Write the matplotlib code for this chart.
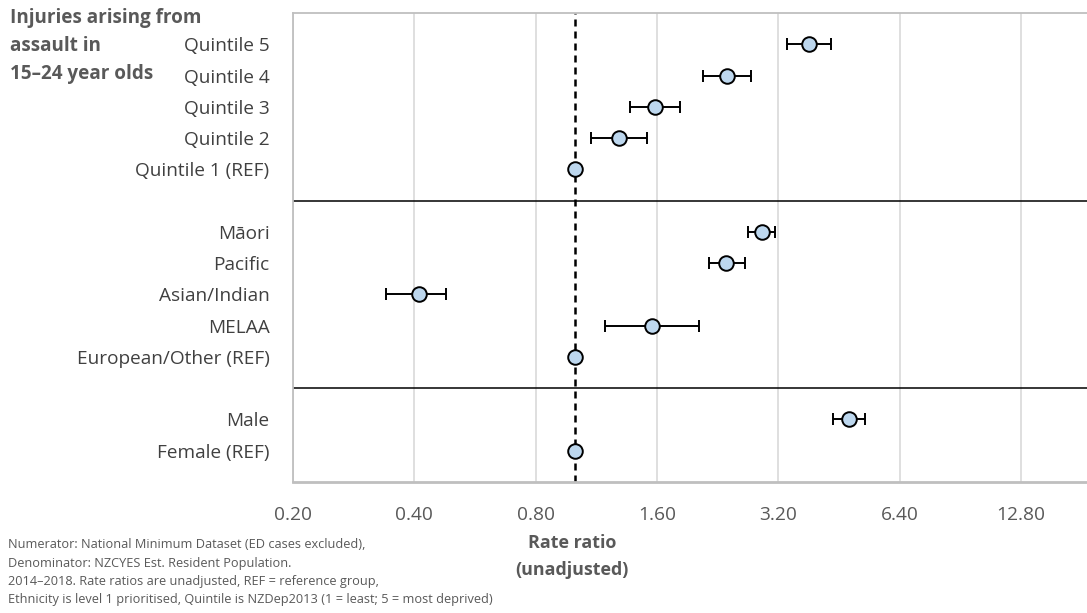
import matplotlib.pyplot as plt
import numpy as np

plt.rcParams['font.family'] = ['Open Sans', 'DejaVu Sans']

# Dati (rate ratio con intervalli di confidenza)
groups = [
    ["Quintile 5", "Quintile 4", "Quintile 3", "Quintile 2", "Quintile 1 (REF)"],
    ["Māori", "Pacific", "Asian/Indian", "MELAA", "European/Other (REF)"],
    ["Male", "Female (REF)"],
]
rate_ratio = [3.82, 2.39, 1.58, 1.29, 1.00,
              2.91, 2.38, 0.41, 1.56, 1.00,
              4.79, 1.00]
ci_low = [3.36, 2.08, 1.37, 1.10, np.nan,
          2.70, 2.15, 0.34, 1.19, np.nan,
          4.38, np.nan]
ci_high = [4.33, 2.74, 1.83, 1.51, np.nan,
           3.14, 2.64, 0.48, 2.03, np.nan,
           5.24, np.nan]
x_ticks = [0.2, 0.4, 0.8, 1.6, 3.2, 6.4, 12.8]

title_lines = ["Injuries arising from", "assault in", "15–24 year olds"]
footnote = ["Numerator: National Minimum Dataset (ED cases excluded),",
            "Denominator: NZCYES Est. Resident Population.",
            "2014–2018. Rate ratios are unadjusted, REF = reference group,",
            "Ethnicity is level 1 prioritised, Quintile is NZDep2013 (1 = least; 5 = most deprived)"]

# posizioni delle righe, con una riga vuota tra i gruppi (per la linea di separazione)
labels, ypos, separators = [], [], []
pos = 0
for g in groups:
    for name in g:
        labels.append(name)
        ypos.append(pos)
        pos += 1
    separators.append(pos)
    pos += 1
separators = separators[:-1]

rr = np.array(rate_ratio)
lo = np.array(ci_low)
hi = np.array(ci_high)
ypos = np.array(ypos)

W, H = 1087, 613
fig = plt.figure(figsize=(W / 100, H / 100), dpi=100)
ax = fig.add_axes([293 / W, 1 - 482 / H, (W - 293) / W, (482 - 13) / H])

ax.set_xscale('log', base=2)
ax.set_xlim(0.2, 0.2 * 2 ** ((W - 293) / 121.3))
ax.set_ylim(14, -1)

# griglia verticale
for t in x_ticks:
    ax.axvline(t, color='#d9d9d9', lw=1.2, zorder=0)

# linee di separazione tra i gruppi
for s in separators:
    ax.axhline(s, color='black', lw=1.1, zorder=1)

# linea di riferimento
ax.axvline(1.0, color='black', lw=1.8, linestyle=(0, (2.8, 2.0)), zorder=2)

# barre di errore
has_ci = ~np.isnan(lo)
ax.errorbar(rr[has_ci], ypos[has_ci],
            xerr=[rr[has_ci] - lo[has_ci], hi[has_ci] - rr[has_ci]],
            fmt='none', ecolor='black', elinewidth=1.4, capsize=4.5, capthick=1.4, zorder=3)
ax.plot(rr, ypos, 'o', ms=10.5, mfc='#bdd7ee', mec='black', mew=1.4, zorder=4)

ax.set_xticks(x_ticks)
ax.set_xticklabels([f"{t:.2f}" for t in x_ticks])
ax.xaxis.set_minor_locator(plt.NullLocator())
ax.set_yticks(ypos)
ax.set_yticklabels(labels)
ax.tick_params(axis='x', length=0, pad=17, labelsize=13.8, labelcolor='#595959')
ax.tick_params(axis='y', length=0, pad=17, labelsize=13.7, labelcolor='#404040')

for side in ['top', 'left']:
    ax.spines[side].set_color('#bfbfbf')
    ax.spines[side].set_linewidth(1.3)
ax.spines['bottom'].set_color('#bfbfbf')
ax.spines['bottom'].set_linewidth(2.0)
ax.spines['right'].set_visible(False)

# titolo in alto a sinistra
for i, line in enumerate(title_lines):
    fig.text(10 / W, 1 - (18 + 28 * i) / H, line, fontsize=13.6, fontweight='bold',
             color='#595959', ha='left', va='center')

# etichetta asse x
fig.text(572 / W, 1 - 543 / H, "Rate ratio", fontsize=12.9, fontweight='bold',
         color='#595959', ha='center', va='center')
fig.text(572 / W, 1 - 570 / H, "(unadjusted)", fontsize=12.9, fontweight='bold',
         color='#595959', ha='center', va='center')

# note in basso
for i, line in enumerate(footnote):
    fig.text(8 / W, 1 - (545 + 18.3 * i) / H, line, fontsize=9.2, color='#595959',
             ha='left', va='center')

fig.savefig('out.png', dpi=100)
